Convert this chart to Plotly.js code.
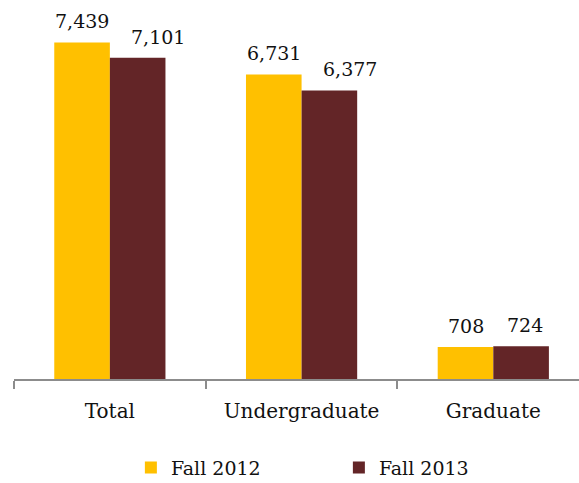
<!DOCTYPE html>
<html>
<head>
<meta charset="utf-8">
<script src="https://cdn.plot.ly/plotly-3.0.1.min.js"></script>
<style>html,body{margin:0;padding:0;background:#fff}#chart{width:579px;height:483px}</style>
</head>
<body>
<div id="chart"></div>
<script>
var categories = ["Total", "Undergraduate", "Graduate"];
var seriesNames = ["Fall 2012", "Fall 2013"];
var fall2012 = [7439, 6731, 708];
var fall2013 = [7101, 6377, 724];

var colors = ["#FFC000", "#632527"];
var labelFont = {family: "DejaVu Serif, serif", size: 19, color: "#111"};
var barShift = [-27.7, 27.7];
var labelExtraShift = [[0, 0, 0], [20, 21, 4]];

var seriesValues = [fall2012, fall2013];
var traces = seriesValues.map(function (vals, s) {
  return {
    type: "bar",
    name: seriesNames[s],
    x: categories,
    y: vals,
    marker: {color: colors[s], line: {width: 0}},
    hoverinfo: "none"
  };
});

var annotations = [];
seriesValues.forEach(function (vals, s) {
  vals.forEach(function (v, i) {
    annotations.push({
      x: categories[i], y: v, xref: "x", yref: "y",
      text: v.toLocaleString("en-US"),
      showarrow: false,
      xanchor: "center", yanchor: "bottom",
      xshift: barShift[s] + labelExtraShift[s][i],
      yshift: 8,
      font: labelFont
    });
  });
});

var layout = {
  width: 579, height: 483,
  margin: {l: 14, r: 0, t: 17, b: 104, pad: 0, autoexpand: false},
  paper_bgcolor: "#fff", plot_bgcolor: "#fff",
  barmode: "group", bargap: 0.42, bargroupgap: 0,
  showlegend: true,
  xaxis: {
    type: "category",
    range: [-0.5, 2.447],
    automargin: false,
    showline: true, linecolor: "#8c8c8c", linewidth: 2,
    ticks: "outside", tickson: "boundaries", ticklen: 8, tickwidth: 2, tickcolor: "#8c8c8c",
    showgrid: false, zeroline: false,
    tickfont: {family: "DejaVu Serif, serif", size: 20, color: "#111"},
    ticklabelstandoff: 13,
    fixedrange: true
  },
  yaxis: {
    range: [0, 8000], visible: false, showgrid: false, zeroline: false, fixedrange: true, automargin: false
  },
  legend: {
    orientation: "h",
    x: 0.575, xanchor: "center",
    y: -0.245, yanchor: "middle",
    font: {family: "DejaVu Serif, serif", size: 19, color: "#111"},
    entrywidth: 163, entrywidthmode: "pixels",
    traceorder: "normal"
  },
  annotations: annotations
};

Plotly.newPlot("chart", traces, layout, {displayModeBar: false, staticPlot: true});
</script>
</body>
</html>
